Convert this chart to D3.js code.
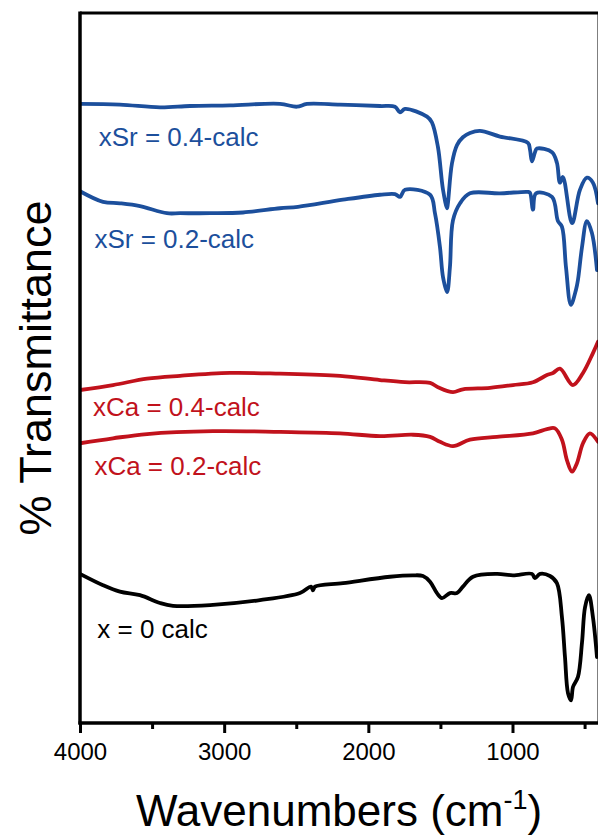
<!DOCTYPE html>
<html>
<head>
<meta charset="utf-8">
<script src="https://cdn.jsdelivr.net/npm/d3@7"></script>
<style>
  html, body { margin: 0; padding: 0; background: #fff; }
  svg { display: block; font-family: Arial, "Liberation Sans", sans-serif; }
</style>
</head>
<body>
<div id="chart"></div>
<script>
// FTIR spectra, offset vertically (wavenumber in cm^-1, transmittance in offset units)
const srHigh = [
  [4000, 87.2], [3723, 87.1], [3445, 86.7], [3237, 86.9], [2960, 87.0], [2613, 87.2],
  [2495, 86.8], [2426, 87.2], [2197, 87.1], [1919, 86.9], [1815, 86.8], [1780, 86.0],
  [1746, 86.5], [1593, 85.4], [1559, 84.6], [1517, 81.1], [1482, 75.1], [1454, 72.5],
  [1448, 73.2], [1420, 78.8], [1385, 81.4], [1344, 82.5], [1295, 83.1], [1226, 83.4],
  [1087, 82.6], [893, 81.7], [879, 80.8], [865, 79.1], [844, 80.4], [830, 80.9],
  [726, 80.4], [692, 78.9], [671, 76.1], [650, 76.9], [587, 70.4], [532, 75.1],
  [484, 76.8], [442, 76.1], [407, 73.2]
];
const srLow = [
  [4000, 74.9], [3840, 73.4], [3723, 73.2], [3584, 72.8], [3397, 71.8], [3306, 71.8],
  [3098, 71.8], [2869, 71.9], [2613, 72.5], [2488, 72.7], [2176, 73.7], [1919, 74.4],
  [1815, 74.5], [1780, 74.1], [1746, 75.1], [1572, 74.4], [1538, 71.8], [1503, 67.0],
  [1482, 62.8], [1454, 60.7], [1434, 64.2], [1413, 70.8], [1364, 73.2], [1295, 74.6],
  [1087, 74.6], [893, 74.8], [879, 74.7], [858, 72.3], [837, 74.6], [726, 74.1],
  [685, 70.7], [657, 69.9], [629, 64.2], [595, 58.9], [560, 61.0], [546, 62.4],
  [518, 67.0], [484, 70.7], [449, 69.0], [414, 63.8]
];
const caHigh = [
  [4000, 46.9], [3771, 47.6], [3535, 48.5], [3306, 48.9], [2960, 49.3], [2613, 49.2],
  [2197, 48.9], [1919, 48.3], [1746, 48.0], [1572, 47.9], [1517, 47.3], [1413, 46.6],
  [1344, 47.0], [1156, 47.2], [997, 47.6], [858, 48.0], [761, 49.0], [719, 49.3],
  [671, 49.9], [581, 47.6], [511, 49.3], [442, 52.1], [407, 53.7]
];
const caLow = [
  [4000, 39.4], [3771, 40.1], [3535, 40.7], [3078, 41.1], [2613, 41.0], [2197, 40.8],
  [1919, 40.4], [1690, 40.6], [1572, 40.3], [1503, 39.6], [1413, 39.0], [1295, 39.9],
  [1108, 40.3], [858, 40.8], [761, 41.4], [705, 41.5], [657, 39.9], [622, 37.0],
  [587, 35.4], [553, 36.6], [511, 39.4], [463, 40.8], [407, 39.6]
];
const base = [
  [4000, 21.0], [3840, 19.4], [3723, 18.5], [3584, 18.0], [3445, 16.9], [3355, 16.5],
  [3098, 16.6], [2752, 17.3], [2474, 18.3], [2398, 19.2], [2384, 18.7], [2370, 19.2],
  [2176, 19.7], [1850, 20.6], [1690, 20.8], [1621, 20.7], [1572, 19.9], [1524, 18.3],
  [1489, 17.6], [1434, 18.3], [1385, 18.3], [1344, 19.2], [1274, 20.6], [1108, 21.0],
  [997, 20.8], [865, 21.0], [844, 20.4], [809, 21.0], [740, 20.7], [692, 19.7],
  [657, 14.9], [636, 9.3], [615, 4.2], [594, 3.2], [580, 5.1], [546, 6.5],
  [518, 11.3], [497, 16.3], [470, 18.0], [442, 14.9], [414, 9.3]
];

const seriesNames = ["xSr = 0.4-calc", "xSr = 0.2-calc", "xCa = 0.4-calc", "xCa = 0.2-calc", "x = 0 calc"];
const seriesData = [srHigh, srLow, caHigh, caLow, base];
const seriesColors = ["#1c4f9c", "#1c4f9c", "#c1121c", "#c1121c", "#000000"];
// label anchor: [wavenumber, transmittance] of the text baseline start
const labelAnchors = [[3870, 81.2], [3900, 66.9], [3910, 43.2], [3900, 34.9], [3880, 12.0]];

const xTicks = [4000, 3000, 2000, 1000];
const xMinorTicks = [3500, 2500, 1500, 500];

const W = 598, H = 837;
const margin = { left: 80, right: -1, top: 13, bottom: 114 };

const svg = d3.select("#chart").append("svg")
  .attr("width", W).attr("height", H);

const x = d3.scaleLinear().domain([4000, 400]).range([margin.left, W - margin.right]);
const y = d3.scaleLinear().domain([0, 100]).range([H - margin.bottom, margin.top]);

const line = d3.line()
  .x(d => x(d[0]))
  .y(d => y(d[1]))
  .curve(d3.curveCatmullRom.alpha(0.5));

svg.append("defs").append("clipPath").attr("id", "plotClip")
  .append("rect")
  .attr("x", margin.left).attr("y", margin.top)
  .attr("width", x(400) - margin.left).attr("height", y(0) - margin.top);

const plot = svg.append("g").attr("clip-path", "url(#plotClip)");

seriesData.forEach((data, i) => {
  plot.append("path")
    .datum(data)
    .attr("fill", "none")
    .attr("stroke", seriesColors[i])
    .attr("stroke-width", 3.8)
    .attr("stroke-linejoin", "round")
    .attr("stroke-linecap", "round")
    .attr("d", line);
});

// series labels
seriesNames.forEach((name, i) => {
  svg.append("text")
    .attr("x", x(labelAnchors[i][0]))
    .attr("y", y(labelAnchors[i][1]))
    .attr("fill", seriesColors[i])
    .attr("font-size", 26)
    .text(name);
});

// frame: top and right edges
svg.append("line")
  .attr("x1", margin.left).attr("x2", x(400))
  .attr("y1", margin.top).attr("y2", margin.top)
  .attr("stroke", "#000").attr("stroke-width", 3);
svg.append("line")
  .attr("x1", x(400)).attr("x2", x(400))
  .attr("y1", margin.top).attr("y2", y(0))
  .attr("stroke", "#000").attr("stroke-width", 3);

// left axis (no ticks)
svg.append("line")
  .attr("x1", margin.left).attr("x2", margin.left)
  .attr("y1", margin.top - 1.5).attr("y2", y(0) + 1.5)
  .attr("stroke", "#000").attr("stroke-width", 3.5);

// bottom axis
const xAxis = d3.axisBottom(x)
  .tickValues(xTicks)
  .tickFormat(d3.format("d"))
  .tickSize(10)
  .tickPadding(10)
  .tickSizeOuter(0);

const gx = svg.append("g")
  .attr("transform", `translate(0,${y(0)})`)
  .call(xAxis);
gx.select(".domain").attr("stroke-width", 3.5)
  .attr("d", `M${margin.left - 1.5},0H${x(400)}`);
gx.selectAll(".tick line").attr("stroke-width", 3);
gx.selectAll(".tick text")
  .attr("font-size", 24)
  .attr("font-family", "Arial, 'Liberation Sans', sans-serif")
  .attr("fill", "#000");

const gxMinor = svg.append("g")
  .attr("transform", `translate(0,${y(0)})`)
  .call(d3.axisBottom(x).tickValues(xMinorTicks).tickSize(6).tickFormat(""));
gxMinor.select(".domain").remove();
gxMinor.selectAll(".tick line").attr("stroke-width", 3);

// axis titles
const xt = svg.append("text")
  .attr("x", 339).attr("y", 826)
  .attr("text-anchor", "middle")
  .attr("font-size", 44)
  .attr("fill", "#000");
xt.append("tspan").text("Wavenumbers (cm");
xt.append("tspan").attr("font-size", 27).attr("dy", -17).text("-1");
xt.append("tspan").attr("dy", 17).text(")");

svg.append("text")
  .attr("transform", "translate(51,368) rotate(-90)")
  .attr("text-anchor", "middle")
  .attr("font-size", 45)
  .attr("fill", "#000")
  .text("% Transmittance");
</script>
</body>
</html>
